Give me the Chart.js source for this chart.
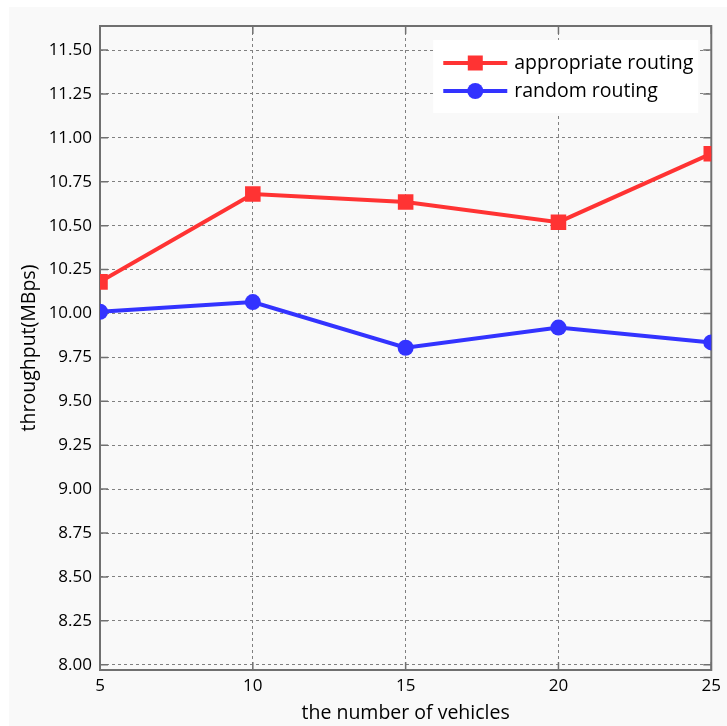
<!DOCTYPE html>
<html><head><meta charset="utf-8">
<script src="https://cdn.jsdelivr.net/npm/chart.js@4.4.1/dist/chart.umd.min.js"></script>
<style>
html,body{margin:0;padding:0;background:#fff;}
#wrap{position:absolute;left:9px;top:7px;width:718px;height:719px;}
canvas{display:block;}
</style></head><body>
<div id="wrap"><canvas id="c" width="718" height="719"></canvas></div>
<script>
// Throughput against fleet size for two routing strategies
const vehicles = [5, 10, 15, 20, 25];
const appropriateRouting = [10.18, 10.68, 10.635, 10.52, 10.91];
const randomRouting = [10.01, 10.065, 9.805, 9.92, 9.835];
const yTicks = [8.00, 8.25, 8.50, 8.75, 9.00, 9.25, 9.50, 9.75, 10.00, 10.25, 10.50, 10.75, 11.00, 11.25, 11.50];

const FONT = '"Open Sans", "DejaVu Sans", sans-serif';
const RED = '#ff3333';
const BLUE = '#3333ff';
const BG = '#f9f9f9';

// page background, plot frame and inward tick marks
const framePlugin = {
  id: 'frame',
  beforeDraw(chart) {
    const ctx = chart.ctx;
    ctx.save();
    ctx.fillStyle = BG;
    ctx.fillRect(0, 0, chart.width, chart.height);
    ctx.restore();
  },
  beforeDatasetsDraw(chart) {
    const { ctx, chartArea: a, scales } = chart;
    ctx.save();
    ctx.strokeStyle = '#707070';
    ctx.lineWidth = 1.5;
    ctx.beginPath();
    scales.y.ticks.forEach(t => {
      const y = scales.y.getPixelForValue(t.value);
      ctx.moveTo(a.left, y); ctx.lineTo(a.left + 8, y);
      ctx.moveTo(a.right, y); ctx.lineTo(a.right - 8, y);
    });
    scales.x.ticks.forEach((t, i) => {
      const x = scales.x.getPixelForTick(i);
      ctx.moveTo(x, a.bottom); ctx.lineTo(x, a.bottom - 8);
      ctx.moveTo(x, a.top); ctx.lineTo(x, a.top + 8);
    });
    ctx.stroke();
    ctx.lineWidth = 2;
    ctx.strokeStyle = '#707070';
    ctx.strokeRect(a.left, a.top, a.right - a.left, a.bottom - a.top);
    ctx.restore();
  }
};

// boxed legend in the upper right of the plot area
const boxLegend = {
  id: 'boxLegend',
  afterDatasetsDraw(chart) {
    const { ctx, chartArea: a } = chart;
    const bw = 265, bh = 73;
    const bx = a.right - 13 - bw, by = a.top + 14;
    ctx.save();
    ctx.fillStyle = '#ffffff';
    ctx.fillRect(bx, by, bw, bh);
    chart.data.datasets.forEach((ds, i) => {
      const y = by + 23 + i * 28;
      const x0 = bx + 10, x1 = bx + 74;
      ctx.strokeStyle = ds.borderColor;
      ctx.lineWidth = 4;
      ctx.beginPath(); ctx.moveTo(x0, y); ctx.lineTo(x1, y); ctx.stroke();
      ctx.fillStyle = ds.borderColor;
      if (ds.pointStyle === 'rect') {
        ctx.fillRect((x0 + x1) / 2 - 7.5, y - 7.5, 15, 15);
      } else {
        ctx.beginPath(); ctx.arc((x0 + x1) / 2, y, 8, 0, Math.PI * 2); ctx.fill();
      }
      ctx.fillStyle = '#000';
      ctx.font = '19.5px ' + FONT;
      ctx.textBaseline = 'middle';
      ctx.textAlign = 'left';
      ctx.fillText(ds.label, bx + 81, y);
    });
    ctx.restore();
  }
};

new Chart(document.getElementById('c'), {
  type: 'line',
  plugins: [framePlugin, boxLegend],
  data: {
    labels: vehicles,
    datasets: [
      {
        label: 'appropriate routing',
        data: appropriateRouting,
        borderColor: RED, backgroundColor: RED,
        borderWidth: 4, pointStyle: 'rect', pointRadius: 11,
        pointBackgroundColor: RED, pointBorderColor: RED, pointBorderWidth: 0,
        tension: 0, clip: 0
      },
      {
        label: 'random routing',
        data: randomRouting,
        borderColor: BLUE, backgroundColor: BLUE,
        borderWidth: 4, pointStyle: 'circle', pointRadius: 8,
        pointBackgroundColor: BLUE, pointBorderColor: BLUE, pointBorderWidth: 0,
        tension: 0, clip: 0
      }
    ]
  },
  options: {
    responsive: false,
    devicePixelRatio: 1,
    animation: false,
    events: [],
    layout: { padding: { top: 19, right: 14, left: 0, bottom: 0 } },
    plugins: { legend: { display: false }, tooltip: { enabled: false } },
    scales: {
      x: {
        type: 'category',
        offset: false,
        grid: { color: '#808080', lineWidth: 1, drawTicks: false },
        border: { display: false, dash: [3, 3] },
        ticks: { color: '#000', font: { family: FONT, size: 17 }, padding: 6, maxRotation: 0, autoSkip: false },
        title: { display: true, text: 'the number of vehicles', color: '#000', font: { family: FONT, size: 19.5 }, padding: { top: 0, bottom: 1 } },
        afterFit(s) { s.height = 56; }
      },
      y: {
        min: 7.97, max: 11.637,
        grid: { color: '#808080', lineWidth: 1, drawTicks: false },
        border: { display: false, dash: [3, 3] },
        afterBuildTicks(s) { s.ticks = yTicks.map(v => ({ value: v })); },
        ticks: { color: '#000', font: { family: FONT, size: 17 }, padding: 8, callback: v => Number(v).toFixed(2) },
        title: { display: true, text: 'throughput(MBps)', color: '#000', font: { family: FONT, size: 19.5 }, padding: { top: 9, bottom: 0 } },
        afterFit(s) { s.width = 91; }
      }
    }
  }
});
</script>
</body></html>
